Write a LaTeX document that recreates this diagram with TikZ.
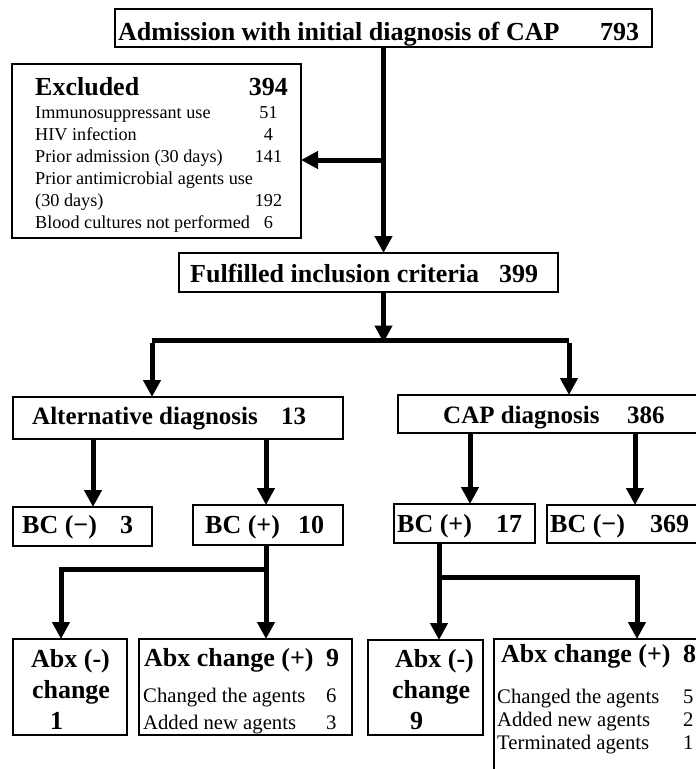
\documentclass[tikz,border=0pt]{standalone}
\usepackage{fontspec}
\setmainfont{Liberation Serif}
\usetikzlibrary{arrows.meta}
\begin{document}
\begin{tikzpicture}[x=1pt,y=-1pt,
  box/.style={draw, line width=2.2pt, inner sep=0pt, outer sep=0pt},
  conn/.style={line width=5pt, line join=miter},
  arr/.style={conn, -{Triangle[width=17pt,length=17pt]}},
  hd/.style={anchor=base west, inner sep=0pt, font=\bfseries\fontsize{26}{30}\selectfont},
  hda/.style={hd, font=\bfseries\fontsize{25}{30}\selectfont},
  hdc/.style={hd, anchor=base},
  sm/.style={anchor=base west, inner sep=0pt, font=\fontsize{18.2}{22}\selectfont},
  smn/.style={sm, anchor=base},
  md/.style={anchor=base west, inner sep=0pt, font=\fontsize{20.7}{24}\selectfont}]
\clip (0,0) rectangle (696,769);
\fill[white] (0,0) rectangle (696,769);

% boxes
\node[box, minimum width=537pt, minimum height=38pt] (top) at (383.5,28) {};
\node[box, minimum width=289pt, minimum height=174pt] (excl) at (156.5,151) {};
\node[box, minimum width=379pt, minimum height=39pt] (ful) at (368.5,272.5) {};
\node[box, minimum width=330pt, minimum height=42pt] (alt) at (178,418) {};
\node[box, minimum width=362pt, minimum height=38pt] (cap) at (579,414) {};
\node[box, minimum width=139pt, minimum height=39pt] (bcn3) at (82.5,526.5) {};
\node[box, minimum width=150pt, minimum height=40pt] (bcp10) at (268,525) {};
\node[box, minimum width=141pt, minimum height=39pt] (bcp17) at (464.5,523.5) {};
\node[box, minimum width=213pt, minimum height=38pt] (bcn369) at (653.5,524) {};
\node[box, minimum width=114pt, minimum height=96pt] (abxn1) at (70,687) {};
\node[box, minimum width=213pt, minimum height=96pt] (abxp9) at (245.5,687) {};
\node[box, minimum width=115pt, minimum height=95pt] (abxn9) at (425.5,687.5) {};
\node[box, minimum width=266pt, minimum height=181pt] (abxp8) at (627,729.5) {};

% texts
\node[hd] (t1) at (118,40) {Admission with initial diagnosis of CAP};
\node[hd] (t1n) at (600,40) {793};
\node[hd] (t2) at (35,95) {Excluded};
\node[hd, anchor=base east] (t2n) at (288,95) {394};
\node[sm] (e1) at (35,118) {Immunosuppressant use};
\node[smn] (e1n) at (268.5,118) {51};
\node[sm] (e2) at (35,140) {HIV infection};
\node[smn] (e2n) at (268.5,140) {4};
\node[sm] (e3) at (35,162) {Prior admission (30 days)};
\node[smn] (e3n) at (268.5,162) {141};
\node[sm] (e4) at (35,184) {Prior antimicrobial agents use};
\node[sm] (e5) at (35,206) {(30 days)};
\node[smn] (e5n) at (268.5,206) {192};
\node[sm] (e6) at (35,228) {Blood cultures not performed};
\node[smn] (e6n) at (268.5,228) {6};
\node[hd] (t3) at (190,282) {Fulfilled inclusion criteria};
\node[hd] (t3n) at (499,282) {399};
\node[hda] (t4) at (32,424) {Alternative diagnosis};
\node[hda] (t4n) at (281,424) {13};
\node[hda] (t5) at (443,423) {CAP diagnosis};
\node[hda] (t5n) at (627,423) {386};
\node[hd] (t6) at (22,533) {BC (−)};
\node[hd] (t6n) at (120,533) {3};
\node[hd] (t7) at (205,533) {BC (+)};
\node[hd] (t7n) at (298,533) {10};
\node[hd] (t8) at (397,532) {BC (+)};
\node[hd] (t8n) at (496,532) {17};
\node[hd] (t9) at (550,532) {BC (−)};
\node[hd] (t9n) at (650,532) {369};
\node[hdc] (a1) at (70.5,667) {Abx (-)};
\node[hdc] (a2) at (71,698) {change};
\node[hd] (a3) at (50,729) {1};
\node[hd] (b1) at (144,666) {Abx change (+)};
\node[hd] (b1n) at (326,666) {9};
\node[md] (b2) at (143,702) {Changed the agents};
\node[md] (b2n) at (326,702) {6};
\node[md] (b3) at (143,729) {Added new agents};
\node[md] (b3n) at (326,729) {3};
\node[hd] (c1) at (395,667) {Abx (-)};
\node[hd] (c2) at (392,698) {change};
\node[hd] (c3) at (410,729) {9};
\node[hd] (d1) at (501,662) {Abx change (+)};
\node[hd] (d1n) at (683,662) {8};
\node[md] (d2) at (497,703) {Changed the agents};
\node[md] (d2n) at (683,703) {5};
\node[md] (d3) at (497,726) {Added new agents};
\node[md] (d3n) at (683,726) {2};
\node[md] (d4) at (497,749) {Terminated agents};
\node[md] (d4n) at (683,749) {1};

% connector x positions and junctions
\coordinate (j1) at (383.5,160);
\coordinate (sp) at (383.5,340);
\coordinate (spl) at (152,340);
\coordinate (spr) at (569,340);
\coordinate (xa) at (93,0);
\coordinate (xb) at (266,0);
\coordinate (xc) at (470,0);
\coordinate (xd) at (635,0);
\coordinate (s2) at (266,569);
\coordinate (s2l) at (61,569);
\coordinate (s3) at (439,577);
\coordinate (s3r) at (637,577);

% connectors
\draw[arr] (top.south) -- (top.south |- ful.north);
\draw[arr] (j1) -- (j1 -| excl.east);
\draw[arr] (ful.south -| top.south) -- ([yshift=-2.5pt]sp);
\draw[conn] (spl) -- (spr);
\draw[arr] ([yshift=-2.5pt]spl) -- (spl |- alt.north);
\draw[arr] ([yshift=-2.5pt]spr) -- (spr |- cap.north);
\draw[arr] (alt.south -| xa) -- (bcn3.north -| xa);
\draw[arr] (alt.south -| xb) -- (bcp10.north -| xb);
\draw[arr] (cap.south -| xc) -- (bcp17.north -| xc);
\draw[arr] (cap.south -| xd) -- (bcn369.north -| xd);
\draw[arr] (bcp10.south -| s2) -- (abxp9.north -| s2);
\draw[arr] (s2) -- (s2l) -- (abxn1.north -| s2l);
\draw[arr] (bcp17.south -| s3) -- (abxn9.north -| s3);
\draw[arr] (s3) -- (s3r) -- (abxp8.north -| s3r);
\end{tikzpicture}
\end{document}
